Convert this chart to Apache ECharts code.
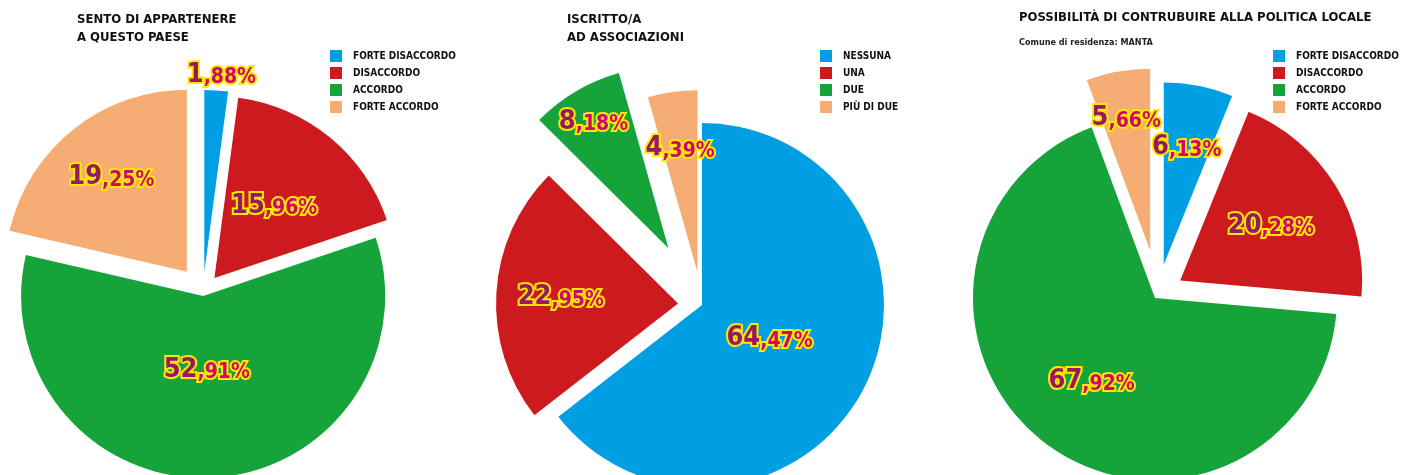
<!DOCTYPE html>
<html>
<head>
<meta charset="utf-8">
<title>Sondaggio Manta</title>
<script src="https://cdn.jsdelivr.net/npm/echarts@6.0.0/dist/echarts.min.js"></script>
<style>
  html, body { margin: 0; padding: 0; background: #fff; }
  #chart { width: 1423px; height: 475px; }
</style>
</head>
<body>
<div id="chart"></div>
<script>
// categorie
const catAccordo = ['FORTE DISACCORDO', 'DISACCORDO', 'ACCORDO', 'FORTE ACCORDO']
const catAssociazioni = ['NESSUNA', 'UNA', 'DUE', 'PIÙ DI DUE']

// valori (%)
const appartenenza = [1.88, 15.96, 52.91, 19.25]
const associazioni = [64.47, 22.95, 8.18, 4.39]
const politica = [6.13, 20.28, 67.92, 5.66]

const COLORS = ['#009fe3', '#cd1a1e', '#16a43a', '#f5ad73']
const FONT = "'DejaVu Sans Condensed', 'Liberation Sans Narrow', sans-serif"
const R = 182

// offsets = distacco dello spicchio, labelPush = quanto l'etichetta interna va verso il bordo
const charts = [
  {
    title: 'SENTO DI APPARTENERE\nA QUESTO PAESE', sub: '',
    names: catAccordo, values: appartenenza,
    center: [203, 292], offsets: [20, 18, 4, 26], labelPush: [0, 0, -0.22, 0.29], outside: [0],
    titleAt: [77, 11], legendAt: [330, 50]
  },
  {
    title: 'ISCRITTO/A\nAD ASSOCIAZIONI', sub: '',
    names: catAssociazioni, values: associazioni,
    center: [702, 305], offsets: [0, 24, 66, 33], labelPush: [-0.2, 0.25, 0.57, 0.34], outside: [],
    titleAt: [567, 11], legendAt: [820, 50]
  },
  {
    title: 'POSSIBILITÀ DI CONTRUBUIRE ALLA POLITICA LOCALE', sub: 'Comune di residenza: MANTA',
    names: catAccordo, values: politica,
    center: [1158, 294], offsets: [30, 26, 5, 44], labelPush: [0.28, 0.13, 0.11, 0.44], outside: [],
    titleAt: [1019, 9], legendAt: [1273, 50]
  }
]

function pctLabel(p) {
  const [a, b] = p.value.toFixed(2).split('.')
  return '{a|' + a + '}{b|,' + b + '%}'
}

const labelRich = {
  a: {
    fontFamily: FONT, fontWeight: 'bold', fontSize: 27, lineHeight: 28,
    color: '#951a60', textBorderColor: '#fde900', textBorderWidth: 4,
    verticalAlign: 'bottom'
  },
  b: {
    fontFamily: FONT, fontWeight: 'bold', fontSize: 21, lineHeight: 28,
    color: '#d0086c', textBorderColor: '#fde900', textBorderWidth: 4,
    verticalAlign: 'bottom'
  }
}

const series = []
charts.forEach(cfg => {
  cfg.values.forEach((val, i) => {
    const isOut = cfg.outside.includes(i)
    const push = cfg.labelPush[i]
    series.push({
      type: 'pie',
      center: cfg.center,
      radius: R,
      startAngle: 90,
      clockwise: true,
      selectedMode: 'multiple',
      selectedOffset: cfg.offsets[i],
      avoidLabelOverlap: false,
      silent: true,
      emphasis: { disabled: true },
      itemStyle: { borderWidth: 0 },
      labelLine: { show: false, length: 2, length2: 0 },
      label: {
        formatter: pctLabel,
        rich: labelRich,
        position: isOut ? 'outside' : 'inside'
      },
      labelLayout: p => {
        if (p.dataIndex !== i) return {}
        if (isOut) return { align: 'center', verticalAlign: 'bottom' }
        const lx = p.labelRect.x + p.labelRect.width / 2
        const ly = p.labelRect.y + p.labelRect.height / 2
        return { dx: (lx - cfg.center[0]) * push, dy: (ly - cfg.center[1]) * push }
      },
      data: cfg.values.map((v, j) => ({
        name: cfg.names[j],
        value: v,
        selected: j === i,
        itemStyle: { color: j === i ? COLORS[j] : 'rgba(0,0,0,0)' },
        label: { show: j === i }
      }))
    })
  })
})

const option = {
  backgroundColor: '#fff',
  animation: false,
  title: charts.map(cfg => ({
    text: cfg.title,
    subtext: cfg.sub,
    left: cfg.titleAt[0],
    top: cfg.titleAt[1],
    padding: 0,
    itemGap: 11,
    textStyle: { fontFamily: FONT, fontWeight: 'bold', fontSize: 13, lineHeight: 18, color: '#111' },
    subtextStyle: { fontFamily: FONT, fontWeight: 'bold', fontSize: 9, color: '#222' }
  })),
  legend: charts.map(cfg => ({
    orient: 'vertical',
    left: cfg.legendAt[0],
    top: cfg.legendAt[1],
    padding: 0,
    icon: 'rect',
    itemWidth: 12,
    itemHeight: 12,
    itemGap: 5,
    selectedMode: false,
    data: cfg.names.map((n, j) => ({ name: n, itemStyle: { color: COLORS[j] } })),
    textStyle: { fontFamily: FONT, fontWeight: 'bold', fontSize: 10, color: '#111', padding: [0, 0, 0, 6] }
  })),
  series: series
}

const chart = echarts.init(document.getElementById('chart'), null, { renderer: 'canvas' })
chart.setOption(option)
</script>
</body>
</html>
